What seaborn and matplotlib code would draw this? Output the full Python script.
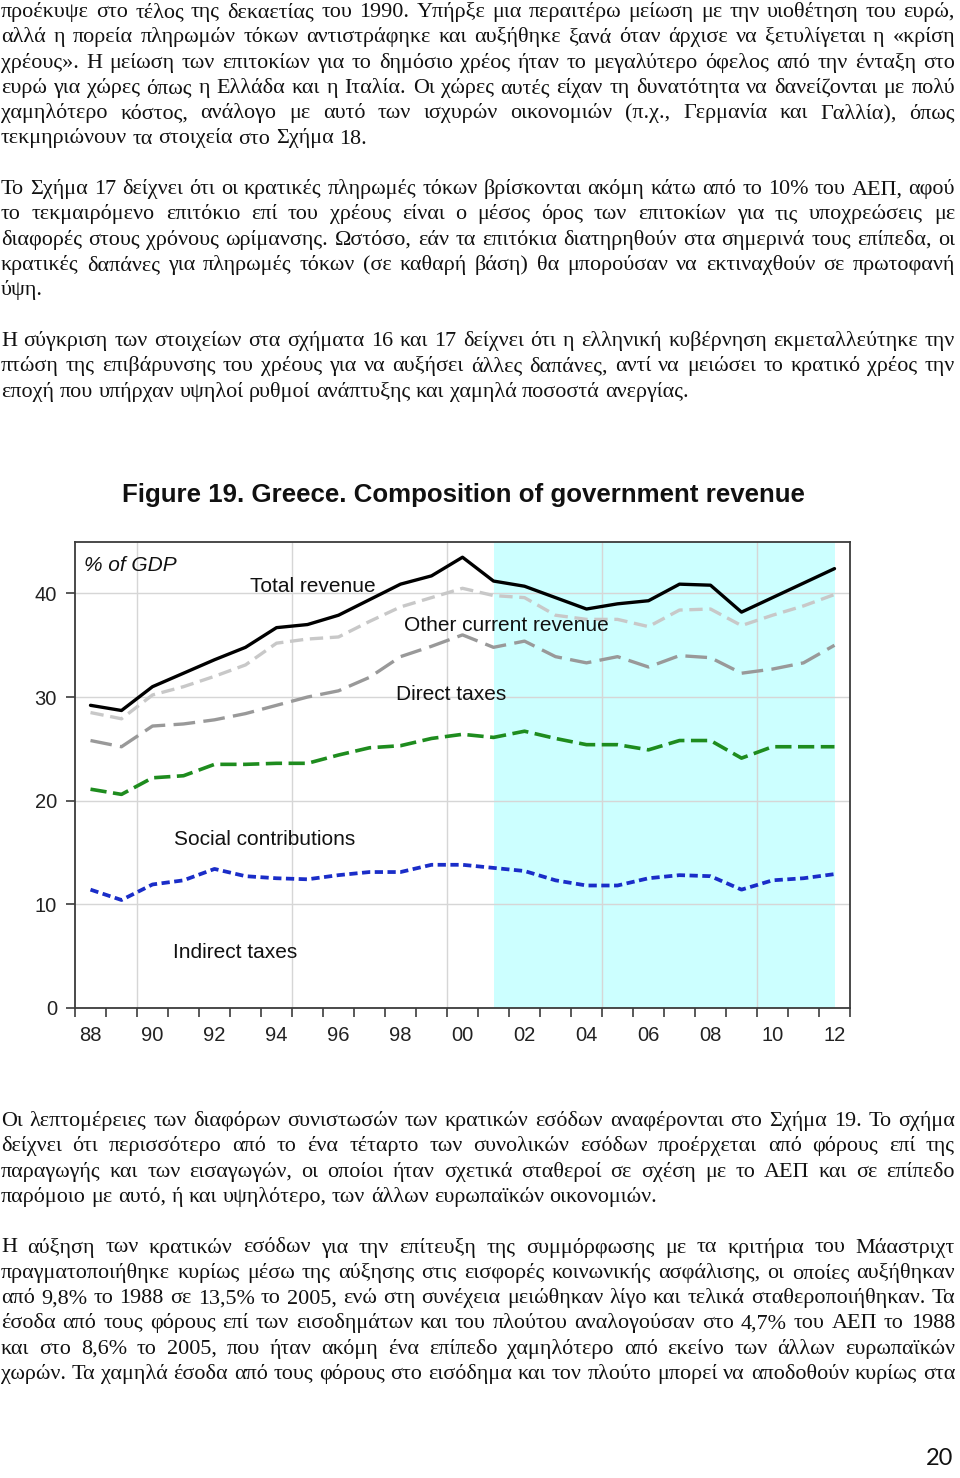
import numpy as np
import pandas as pd
import matplotlib
matplotlib.use("Agg")
import matplotlib.pyplot as plt
import seaborn as sns

# Figure 19 data (% of GDP)
years = [1988, 1989, 1990, 1991, 1992, 1993, 1994, 1995, 1996, 1997, 1998, 1999,
         2000, 2001, 2002, 2003, 2004, 2005, 2006, 2007, 2008, 2009, 2010, 2011, 2012]
total_revenue = [29.2, 28.7, 31.0, 32.3, 33.6, 34.8, 36.7, 37.0, 37.9, 39.4, 40.9, 41.7,
                 43.5, 41.2, 40.7, 39.6, 38.5, 39.0, 39.3, 40.9, 40.8, 38.2, 39.6, 41.0, 42.4]
other_current = [28.5, 27.9, 30.2, 31.0, 32.0, 33.1, 35.2, 35.6, 35.8, 37.3, 38.7, 39.6,
                 40.5, 39.8, 39.6, 37.9, 37.5, 37.5, 36.8, 38.4, 38.5, 36.9, 37.9, 38.8, 39.9]
direct_taxes = [25.8, 25.2, 27.2, 27.4, 27.8, 28.4, 29.2, 30.0, 30.6, 31.9, 33.9, 34.9,
                36.0, 34.8, 35.4, 33.9, 33.3, 33.9, 32.9, 34.0, 33.8, 32.3, 32.7, 33.3, 35.0]
social_contrib = [21.1, 20.6, 22.2, 22.4, 23.5, 23.5, 23.6, 23.6, 24.4, 25.1, 25.3, 26.0,
                  26.4, 26.1, 26.7, 26.0, 25.4, 25.4, 24.9, 25.8, 25.8, 24.1, 25.2, 25.2, 25.2]
indirect_taxes = [11.4, 10.4, 11.9, 12.3, 13.4, 12.7, 12.5, 12.4, 12.8, 13.1, 13.1, 13.8,
                  13.8, 13.5, 13.2, 12.3, 11.8, 11.8, 12.5, 12.8, 12.7, 11.4, 12.3, 12.5, 12.9]

tick_years = [1988, 1990, 1992, 1994, 1996, 1998, 2000, 2002, 2004, 2006, 2008, 2010, 2012]
tick_labels = ["88", "90", "92", "94", "96", "98", "00", "02", "04", "06", "08", "10", "12"]
y_ticks = [0, 10, 20, 30, 40]
shade_start, shade_end = 2001, 2012

title = "Figure 19. Greece. Composition of government revenue"

para1 = [
    "προέκυψε στο τέλος της δεκαετίας του 1990. Υπήρξε μια περαιτέρω μείωση με την υιοθέτηση του ευρώ,",
    "αλλά η πορεία πληρωμών τόκων αντιστράφηκε και αυξήθηκε ξανά όταν άρχισε να ξετυλίγεται η «κρίση",
    "χρέους». Η μείωση των επιτοκίων για το δημόσιο χρέος ήταν το μεγαλύτερο όφελος από την ένταξη στο",
    "ευρώ για χώρες όπως η Ελλάδα και η Ιταλία. Οι χώρες αυτές είχαν τη δυνατότητα να δανείζονται με πολύ",
    "χαμηλότερο κόστος, ανάλογο με αυτό των ισχυρών οικονομιών (π.χ., Γερμανία και Γαλλία), όπως",
    "τεκμηριώνουν τα στοιχεία στο Σχήμα 18.",
]
para2 = [
    "Το Σχήμα 17 δείχνει ότι οι κρατικές πληρωμές τόκων βρίσκονται ακόμη κάτω από το 10% του ΑΕΠ, αφού",
    "το τεκμαιρόμενο επιτόκιο επί του χρέους είναι ο μέσος όρος των επιτοκίων για τις υποχρεώσεις με",
    "διαφορές στους χρόνους ωρίμανσης. Ωστόσο, εάν τα επιτόκια διατηρηθούν στα σημερινά τους επίπεδα, οι",
    "κρατικές δαπάνες για πληρωμές τόκων (σε καθαρή βάση) θα μπορούσαν να εκτιναχθούν σε πρωτοφανή",
    "ύψη.",
]
para3 = [
    "Η σύγκριση των στοιχείων στα σχήματα 16 και 17 δείχνει ότι η ελληνική κυβέρνηση εκμεταλλεύτηκε την",
    "πτώση της επιβάρυνσης του χρέους για να αυξήσει άλλες δαπάνες, αντί να μειώσει το κρατικό χρέος την",
    "εποχή που υπήρχαν υψηλοί ρυθμοί ανάπτυξης και χαμηλά ποσοστά ανεργίας.",
]
para4 = [
    "Οι λεπτομέρειες των διαφόρων συνιστωσών των κρατικών εσόδων αναφέρονται στο Σχήμα 19. Το σχήμα",
    "δείχνει ότι περισσότερο από το ένα τέταρτο των συνολικών εσόδων προέρχεται από φόρους επί της",
    "παραγωγής και των εισαγωγών, οι οποίοι ήταν σχετικά σταθεροί σε σχέση με το ΑΕΠ και σε επίπεδο",
    "παρόμοιο με αυτό, ή και υψηλότερο, των άλλων ευρωπαϊκών οικονομιών.",
]
para5 = [
    "Η αύξηση των κρατικών εσόδων για την επίτευξη της συμμόρφωσης με τα κριτήρια του Μάαστριχτ",
    "πραγματοποιήθηκε κυρίως μέσω της αύξησης στις εισφορές κοινωνικής ασφάλισης, οι οποίες αυξήθηκαν",
    "από 9,8% το 1988 σε 13,5% το 2005, ενώ στη συνέχεια μειώθηκαν λίγο και τελικά σταθεροποιήθηκαν. Τα",
    "έσοδα από τους φόρους επί των εισοδημάτων και του πλούτου αναλογούσαν στο 4,7% του ΑΕΠ το 1988",
    "και στο 8,6% το 2005, που ήταν ακόμη ένα επίπεδο χαμηλότερο από εκείνο των άλλων ευρωπαϊκών",
    "χωρών. Τα χαμηλά έσοδα από τους φόρους στο εισόδημα και τον πλούτο μπορεί να αποδοθούν κυρίως στα",
]
page_number = "20"

W, H = 960, 1478
sns.set_theme(style="white")
plt.rcParams["font.family"] = ["Liberation Sans", "DejaVu Sans"]

fig = plt.figure(figsize=(W / 100, H / 100), dpi=100)
fig.patch.set_facecolor("white")
renderer = fig.canvas.get_renderer()

# ---- chart ----
ax = fig.add_axes([75 / W, 1 - 1007.7 / H, 775 / W, 466 / H])
ax.set_facecolor("white")
ax.axvspan(shade_start, shade_end, color="#ccffff", lw=0, zorder=0.2)

df = pd.DataFrame({
    "year": years,
    "total": total_revenue,
    "other": other_current,
    "direct": direct_taxes,
    "social": social_contrib,
    "indirect": indirect_taxes,
})
styles = [
    ("total", "#000000", "-", 2.4),
    ("other", "#c8c8c8", (0, (4, 2)), 2.4),
    ("direct", "#999999", (0, (6.5, 2.5)), 2.4),
    ("social", "#1e8c1e", (0, (4.5, 1.8)), 2.6),
    ("indirect", "#1a2dc8", (0, (2.2, 1.2)), 2.7),
]
for col, color, ls, lw in styles:
    sns.lineplot(data=df, x="year", y=col, color=color, linestyle=ls,
                 linewidth=lw, ax=ax, zorder=3)

ax.set_xlim(1987.5, 2012.5)
ax.set_ylim(0, 45)
ax.set_xlabel("")
ax.set_ylabel("")

ax.set_axisbelow(True)
ax.yaxis.grid(True, color="#d6d6d6", lw=1.0)
for gx in [1989.5, 1994.5, 1999.5, 2004.5, 2009.5]:
    ax.axvline(gx, color="#d6d6d6", lw=1.0, zorder=0.5)

ax.set_xticks([y - 0.5 for y in years] + [years[-1] + 0.5])
ax.set_xticklabels([])
ax.set_xticks(tick_years, minor=True)
ax.set_xticklabels(tick_labels, minor=True, fontsize=14.5)
ax.tick_params(axis="x", which="major", direction="out", length=6.5, width=1.2,
               color="#3c3c3c", bottom=True)
ax.tick_params(axis="x", which="minor", length=0, pad=13, labelcolor="#222222")
ax.set_yticks(y_ticks)
ax.set_yticklabels([str(v) for v in y_ticks], fontsize=14.5)
ax.tick_params(axis="y", direction="out", length=6.5, width=1.2, pad=6.5,
               color="#3c3c3c", left=True, labelcolor="#222222")
for sp in ax.spines.values():
    sp.set_visible(True)
    sp.set_color("#3c3c3c")
    sp.set_linewidth(1.3)

lab = dict(fontsize=15, va="center", ha="left", color="#111111", zorder=4)
ax.text(1987.8, 42.7, "% of GDP", style="italic", **lab)
ax.text(1993.16, 40.7, "Total revenue", **lab)
ax.text(1998.1, 36.95, "Other current revenue", **lab)
ax.text(1997.87, 30.2, "Direct taxes", **lab)
ax.text(1990.68, 16.2, "Social contributions", **lab)
ax.text(1990.65, 5.3, "Indirect taxes", **lab)

# title, fitted to its width in the page
t = fig.text(122 / W, 1 - 501.7 / H, title, fontsize=18.4, fontweight="bold",
             ha="left", va="baseline", color="#111111")
tw = t.get_window_extent(renderer).width
t.set_fontsize(18.4 * 682 / tw)

# ---- justified body text ----
body_font = dict(family=["Liberation Serif", "DejaVu Serif"], fontsize=15.9, color="#111111")
left_px, right_px = 1, 955
pitch = 25.3

probe1 = fig.text(0, 0, "x x", **body_font)
probe2 = fig.text(0, 0, "xx", **body_font)
space_w = probe1.get_window_extent(renderer).width - probe2.get_window_extent(renderer).width
probe1.remove()
probe2.remove()


def put_line(line, base_y, justify):
    words = line.split(" ")
    objs = [fig.text(0, 1 - base_y / H, w, va="baseline", ha="left", **body_font) for w in words]
    widths = [o.get_window_extent(renderer).width for o in objs]
    if justify and len(words) > 1:
        gap = (right_px - left_px - sum(widths)) / (len(words) - 1)
    else:
        gap = space_w
    x = left_px
    for o, w in zip(objs, widths):
        o.set_x(x / W)
        x += w + gap


def put_para(lines, first_base, last_justified=False):
    for i, line in enumerate(lines):
        put_line(line, first_base + i * pitch, last_justified or i < len(lines) - 1)


put_para(para1, 17)
put_para(para2, 17 + 7 * pitch)
put_para(para3, 17 + 13 * pitch)
put_para(para4, 1126)
# the last paragraph runs on to the next page, so every line is justified
put_para(para5, 1126 + 5 * pitch, last_justified=True)

fig.text(953 / W, 1 - 1465 / H, page_number, ha="right", va="baseline",
         family=["Lato", "DejaVu Sans"], fontsize=17, color="#111111")

fig.savefig("out.png", dpi=100)
